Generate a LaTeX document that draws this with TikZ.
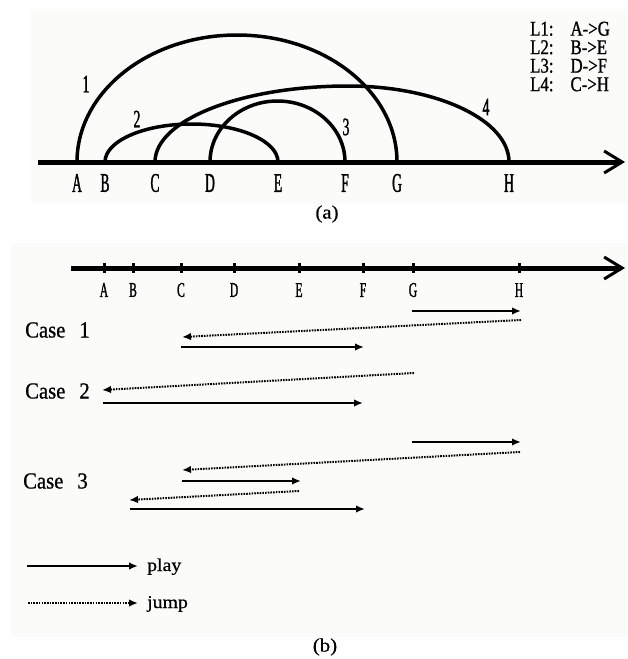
\documentclass[tikz,border=0pt]{standalone}
\usepackage{fontspec}
\setmainfont{Liberation Serif}
\newfontfamily\condA[FakeStretch=0.5,FakeBold=1.2]{Liberation Serif}
\newfontfamily\condB[FakeStretch=0.55,FakeBold=1.2]{Liberation Serif}
\newfontfamily\condL[FakeStretch=0.8,FakeBold=1]{Liberation Serif}
\newfontfamily\condC[FakeStretch=0.9,FakeBold=0.8]{Liberation Serif}
\newfontfamily\wideT[FakeStretch=1.1,FakeBold=0.6]{Liberation Serif}
\usetikzlibrary{arrows.meta}
\definecolor{panelbg}{RGB}{251,251,250}
\tikzset{
  axisline/.style={line width=5pt,-{Straight Barb[length=18pt,width=22pt,line width=3pt]}},
  arcline/.style={line width=3.5pt},
  tickmark/.style={line width=3pt},
  play/.style={line width=2pt,-{Latex[length=9pt,width=7.5pt]}},
  jump/.style={line width=2pt,dash pattern=on 1.6pt off 1.1pt,-{Latex[length=9pt,width=7.5pt]}},
  labA/.style={font=\condA\fontsize{27}{27}\selectfont,inner sep=0},
  labB/.style={font=\condB\fontsize{21}{21}\selectfont,inner sep=0},
  numlab/.style={font=\condB\fontsize{25}{25}\selectfont,inner sep=0},
  legblock/.style={font=\condL\fontsize{21}{18.5}\selectfont,inner sep=0,anchor=north west,align=left},
  caselab/.style={font=\condC\fontsize{23}{23}\selectfont,inner sep=0,anchor=west},
  captext/.style={font=\wideT\fontsize{19}{19}\selectfont,inner sep=0},
  keytext/.style={font=\wideT\fontsize{18}{18}\selectfont,inner sep=0,anchor=base west},
}
\begin{document}
\begin{tikzpicture}[x=1pt,y=1pt]
\useasboundingbox (0,0) rectangle (627,-659);
\fill[panelbg] (31,-9) rectangle (627,-204);
\fill[panelbg] (11,-243) rectangle (627,-637);

% ---------- panel (a) ----------
\coordinate (aS) at (38,-162);
\coordinate (aT) at (625,-162);
\foreach \n/\x in {A/77,B/105,C/155,D/210,E/278,F/345,G/397,H/509}{
  \coordinate (a\n) at (\x,-162);
  \node[labA] (la\n) at (\x,-183) {\n};
}
\draw[axisline] (aS) -- (aT);
\draw[arcline] (aA) arc[start angle=180,end angle=0,x radius=160pt,y radius=127pt];
\draw[arcline] (aB) arc[start angle=180,end angle=0,x radius=86.5pt,y radius=38pt];
\draw[arcline] (aD) arc[start angle=180,end angle=0,x radius=67.5pt,y radius=61pt];
\draw[arcline] (aC) arc[start angle=180,end angle=90,x radius=193pt,y radius=76pt]
                    arc[start angle=90,end angle=0,x radius=161pt,y radius=76pt];
\node[numlab] (n1) at (86,-84) {1};
\node[numlab] (n2) at (137,-119) {2};
\node[numlab] (n3) at (346,-127) {3};
\node[numlab] (n4) at (486,-107) {4};
\node[legblock] (legend) at (530,-21.5)
  {L1:\hspace{17pt}A->G\\L2:\hspace{17pt}B->E\\L3:\hspace{17pt}D->F\\L4:\hspace{17pt}C->H};
\node[captext] (capa) at (327,-214) {(a)};

% ---------- panel (b) ----------
\coordinate (bS) at (71,-268);
\coordinate (bT) at (625,-268);
\draw[axisline] (bS) -- (bT);
\foreach \n/\x in {A/104,B/133,C/181,D/234,E/299,F/363,G/413,H/519}{
  \coordinate (b\n) at (\x,-268);
  \coordinate (t\n) at (\x,-263);
  \coordinate (u\n) at (\x,-273);
  \draw[tickmark] (t\n) -- (u\n);
  \node[labB] (lb\n) at (\x,-290) {\n};
}
% case 1
\coordinate (p1s) at (412,-311); \coordinate (p1e) at (521,-311);
\coordinate (j1s) at (521,-320); \coordinate (j1e) at (182,-337);
\coordinate (p2s) at (181,-347); \coordinate (p2e) at (364,-347);
\draw[play] (p1s) -- (p1e);
\draw[jump] (j1s) -- (j1e);
\draw[play] (p2s) -- (p2e);
\node[caselab] (case1) at (25,-330) {Case\hspace{14pt}1};
% case 2
\coordinate (j2s) at (414,-373); \coordinate (j2e) at (102,-390);
\coordinate (p3s) at (103,-403); \coordinate (p3e) at (363,-403);
\draw[jump] (j2s) -- (j2e);
\draw[play] (p3s) -- (p3e);
\node[caselab] (case2) at (25,-391) {Case\hspace{14pt}2};
% case 3
\coordinate (p4s) at (412,-442); \coordinate (p4e) at (521,-442);
\coordinate (j3s) at (520,-452); \coordinate (j3e) at (182,-470);
\coordinate (p5s) at (182,-481); \coordinate (p5e) at (301,-481);
\coordinate (j4s) at (299,-491); \coordinate (j4e) at (129,-500);
\coordinate (p6s) at (130,-509); \coordinate (p6e) at (365,-509);
\draw[play] (p4s) -- (p4e);
\draw[jump] (j3s) -- (j3e);
\draw[play] (p5s) -- (p5e);
\draw[jump] (j4s) -- (j4e);
\draw[play] (p6s) -- (p6e);
\node[caselab] (case3) at (23,-481) {Case\hspace{14pt}3};
% key
\coordinate (kps) at (27,-566); \coordinate (kpe) at (138,-566);
\coordinate (kjs) at (28,-603); \coordinate (kje) at (138,-603);
\draw[play] (kps) -- (kpe);
\draw[jump] (kjs) -- (kje);
\node[keytext] (kp) at (147,-571) {play};
\node[keytext] (kj) at (147,-608) {jump};
\node[captext] (capb) at (325,-647) {(b)};
\end{tikzpicture}
\end{document}
